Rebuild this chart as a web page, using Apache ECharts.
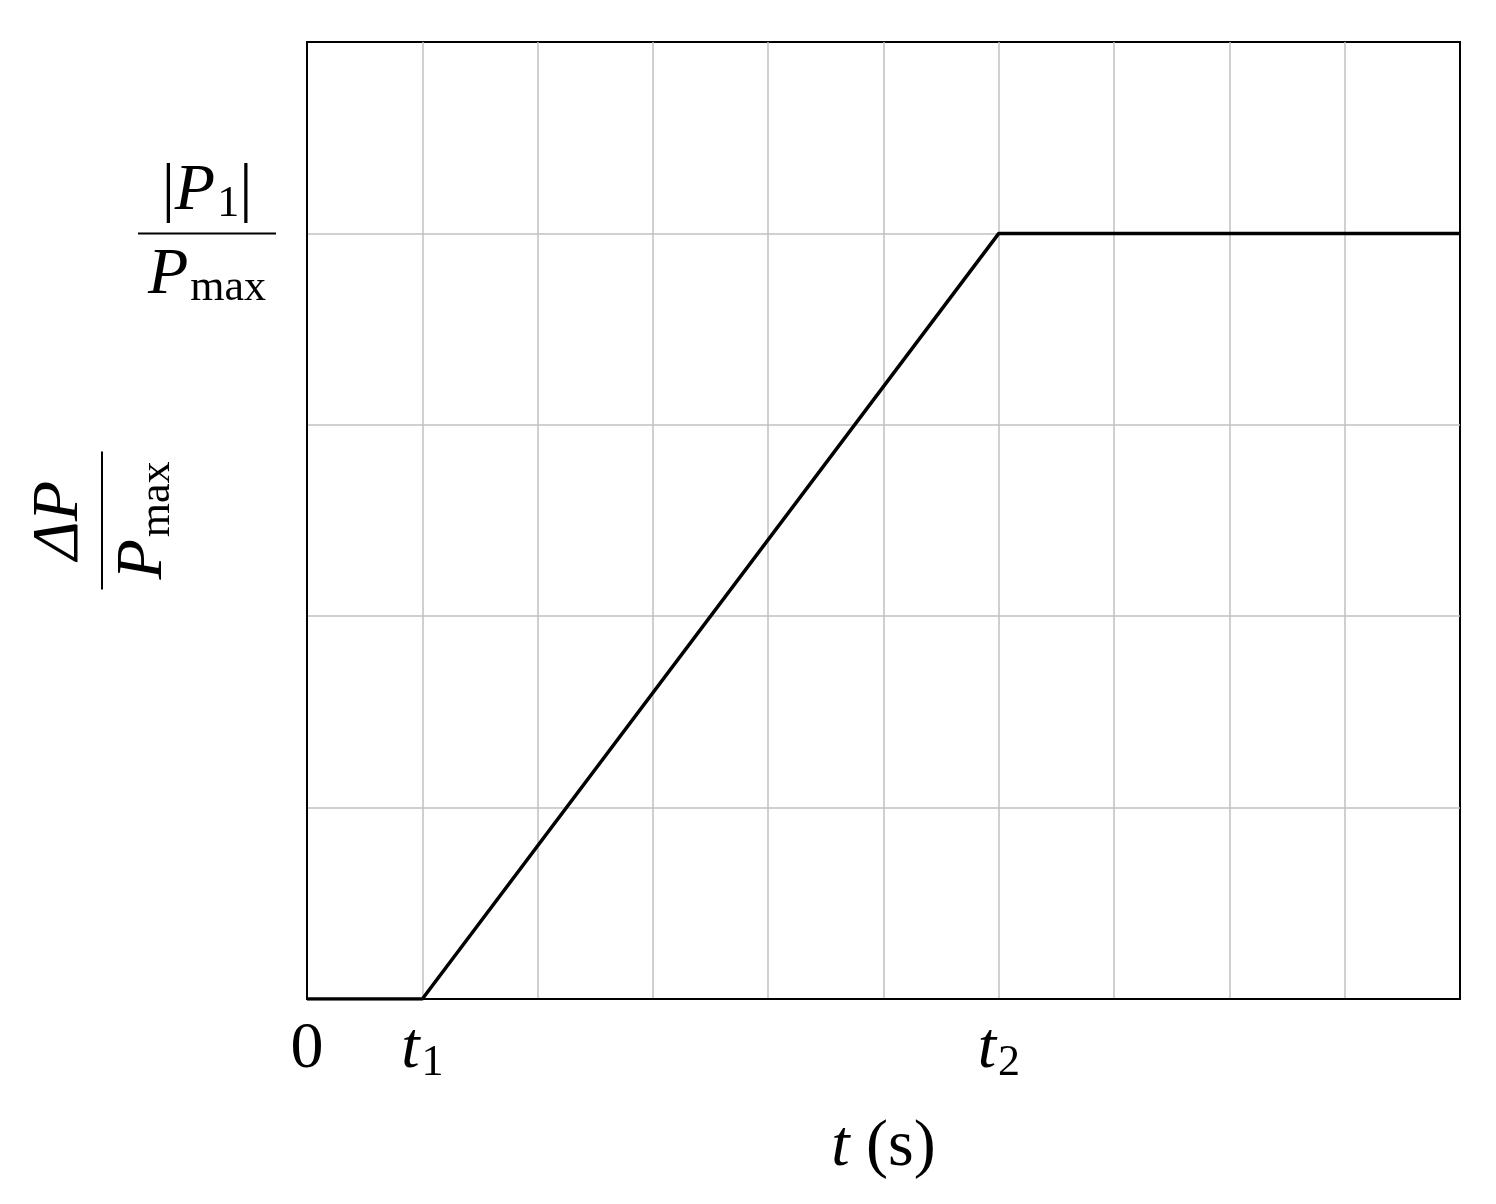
<!DOCTYPE html>
<html>
<head>
<meta charset="utf-8">
<script src="https://cdn.jsdelivr.net/npm/echarts@6/dist/echarts.min.js"></script>
<style>
  html, body { margin: 0; padding: 0; background: #fff; }
  #chart { width: 1496px; height: 1204px; }
</style>
</head>
<body>
<div id="chart"></div>
<script>
// piecewise power ramp: flat until t1, linear rise to |P1|/Pmax at t2, then flat
const tValues = [0, 1, 6, 10]
const powerValues = [0, 0, 4, 4]
const xTicks = { 0: '{rm|0}', 1: '{it|t}{sub|1}', 6: '{it|t}{sub|2}' }
const yTicks = { 4: 'p1' }

const serif = 'Liberation Serif'
const rich = {
  rm: { fontFamily: serif, fontSize: 66, color: '#000', lineHeight: 70 },
  it: { fontFamily: serif, fontStyle: 'italic', fontSize: 66, color: '#000', lineHeight: 70 },
  sub: { fontFamily: serif, fontSize: 44, color: '#000', lineHeight: 70, padding: [26, 0, 0, 2] },
  bar: { width: 138, height: 2, backgroundColor: '#000', lineHeight: 14 },
  vb: { fontFamily: serif, fontSize: 66, color: '#000', lineHeight: 70 }
}

const chart = echarts.init(document.getElementById('chart'))
chart.setOption({
  animation: false,
  grid: {
    left: 307, right: 36, top: 42, bottom: 205, outerBoundsMode: 'none', containLabel: false,
    show: true, borderColor: '#000', borderWidth: 2
  },
  xAxis: [{
    type: 'value', min: 0, max: 10, interval: 1,
    name: '{it|t}{rm| (s)}', nameLocation: 'middle', nameGap: 114, nameMoveOverlap: false,
    nameTextStyle: { rich: rich },
    axisLine: { show: true, lineStyle: { color: '#000', width: 2 } },
    axisTick: { show: false },
    splitLine: { showMinLine: false, showMaxLine: false, lineStyle: { color: '#c0c0c0', width: 1.5 } },
    axisLabel: {
      margin: 16, rich: rich,
      formatter: v => xTicks[v] || ''
    }
  }, {
    type: 'value', position: 'top', min: 0, max: 10, interval: 1,
    axisLine: { show: true, lineStyle: { color: '#000', width: 2 } },
    axisTick: { show: false }, axisLabel: { show: false }, splitLine: { show: false }
  }],
  yAxis: [{
    type: 'value', min: 0, max: 5, interval: 1,
    name: '{it|ΔP}\n{bar|}\n{it|P}{sub|max}', nameLocation: 'middle', nameGap: 205, nameRotate: 90,
    nameMoveOverlap: false,
    nameTextStyle: { rich: rich, align: 'center', verticalAlign: 'middle' },
    axisLine: { show: true, lineStyle: { color: '#000', width: 2 } },
    axisTick: { show: false },
    splitLine: { showMinLine: false, showMaxLine: false, lineStyle: { color: '#c0c0c0', width: 1.5 } },
    axisLabel: {
      margin: 100, align: 'center', rich: rich,
      formatter: v => yTicks[v] ? '{vb||}{it|P}{sub|1}{vb||}\n{bar|}\n{it|P}{sub|max}' : ''
    }
  }, {
    type: 'value', position: 'right', min: 0, max: 5, interval: 1,
    axisLine: { show: true, lineStyle: { color: '#000', width: 2 } },
    axisTick: { show: false }, axisLabel: { show: false }, splitLine: { show: false }
  }],
  series: [{
    type: 'line',
    data: tValues.map((t, i) => [t, powerValues[i]]),
    symbol: 'none',
    lineStyle: { color: '#000', width: 3.5 },
    z: 5
  }]
})
</script>
</body>
</html>
